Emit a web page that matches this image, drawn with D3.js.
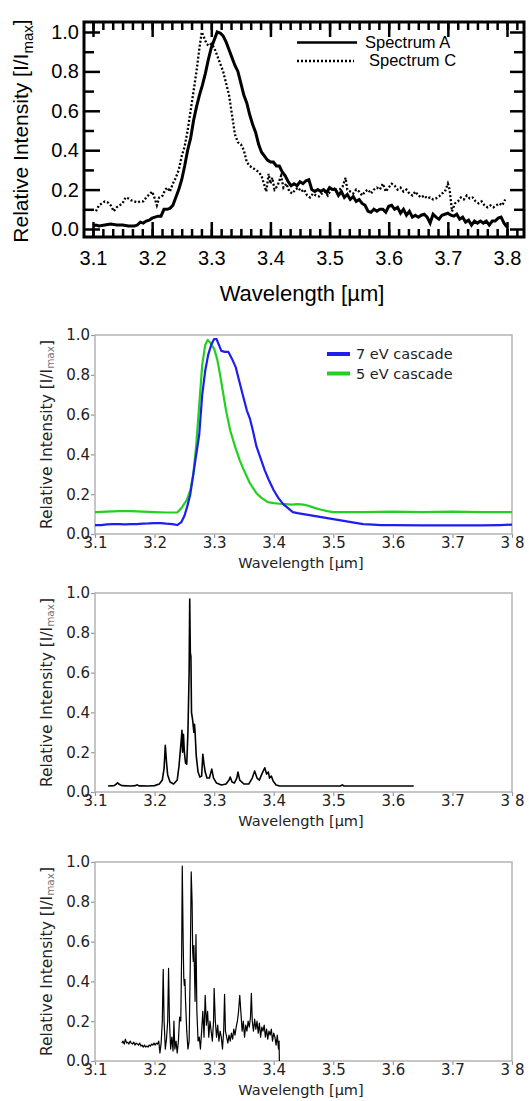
<!DOCTYPE html>
<html>
<head>
<meta charset="utf-8">
<script src="https://cdn.jsdelivr.net/npm/d3@7"></script>
<style>
body { margin: 0; background: white; }
</style>
</head>
<body>
<div id="chart"></div>
<script>
const WIDTH = 529, HEIGHT = 1101;

// tick values / labels
const xTicks = [3.1, 3.2, 3.3, 3.4, 3.5, 3.6, 3.7, 3.8];
const xTickLabelsOld = ["3.1", "3.2", "3.3", "3.4", "3.5", "3.6", "3.7", "3.8"];
const xTickLabelsNew = ["3.1", "3.2", "3.3", "3.4", "3.5", "3.6", "3.7", "3 8"];
const yTicks = [0.0, 0.2, 0.4, 0.6, 0.8, 1.0];
const yMinorTicks = [0.1, 0.3, 0.5, 0.7, 0.9];

// panel 1: measured spectra [wavelength, intensity]
const spectrumA = [[3.100,0.015],[3.105,0.02],[3.110,0.015],[3.120,0.02],[3.130,0.025],[3.140,0.02],[3.150,0.02],[3.160,0.015],[3.170,0.015],[3.175,0.02],[3.180,0.035],[3.185,0.03],[3.190,0.04],[3.195,0.045],[3.200,0.055],[3.205,0.06],[3.210,0.065],[3.215,0.065],[3.220,0.1],[3.225,0.1],[3.230,0.105],[3.235,0.12],[3.240,0.16],[3.245,0.2],[3.250,0.25],[3.255,0.32],[3.260,0.4],[3.265,0.46],[3.270,0.55],[3.275,0.62],[3.280,0.68],[3.285,0.73],[3.290,0.79],[3.295,0.86],[3.300,0.92],[3.305,0.96],[3.310,1.0],[3.315,0.995],[3.320,0.98],[3.325,0.95],[3.330,0.91],[3.335,0.87],[3.340,0.83],[3.345,0.8],[3.350,0.74],[3.355,0.68],[3.360,0.64],[3.365,0.58],[3.370,0.53],[3.375,0.49],[3.380,0.43],[3.385,0.39],[3.390,0.37],[3.395,0.35],[3.400,0.34],[3.405,0.34],[3.410,0.32],[3.415,0.32],[3.420,0.29],[3.425,0.27],[3.430,0.24],[3.435,0.22],[3.440,0.23],[3.445,0.22],[3.450,0.24],[3.455,0.23],[3.460,0.245],[3.465,0.25],[3.470,0.2],[3.475,0.19],[3.480,0.2],[3.485,0.19],[3.490,0.2],[3.495,0.185],[3.500,0.21],[3.505,0.2],[3.510,0.2],[3.515,0.17],[3.520,0.19],[3.525,0.16],[3.530,0.175],[3.535,0.15],[3.540,0.165],[3.545,0.14],[3.550,0.15],[3.555,0.13],[3.560,0.12],[3.565,0.09],[3.570,0.085],[3.575,0.1],[3.580,0.09],[3.585,0.1],[3.590,0.1],[3.595,0.085],[3.600,0.115],[3.605,0.12],[3.610,0.1],[3.615,0.11],[3.620,0.08],[3.625,0.1],[3.630,0.07],[3.635,0.09],[3.640,0.06],[3.645,0.07],[3.650,0.06],[3.655,0.07],[3.660,0.075],[3.665,0.06],[3.670,0.03],[3.675,0.075],[3.680,0.06],[3.685,0.05],[3.690,0.07],[3.695,0.075],[3.700,0.08],[3.705,0.07],[3.710,0.065],[3.715,0.075],[3.720,0.05],[3.725,0.06],[3.730,0.035],[3.735,0.045],[3.740,0.02],[3.745,0.04],[3.750,0.03],[3.755,0.04],[3.760,0.03],[3.765,0.04],[3.770,0.02],[3.775,0.04],[3.780,0.04],[3.785,0.055],[3.790,0.06],[3.795,0.03],[3.800,0.01]];

const spectrumC = [[3.105,0.09],[3.110,0.12],[3.115,0.13],[3.120,0.14],[3.125,0.135],[3.130,0.12],[3.135,0.09],[3.140,0.11],[3.145,0.12],[3.150,0.13],[3.155,0.16],[3.160,0.155],[3.165,0.145],[3.170,0.14],[3.175,0.135],[3.180,0.14],[3.185,0.14],[3.190,0.16],[3.195,0.175],[3.200,0.19],[3.205,0.15],[3.208,0.12],[3.212,0.16],[3.218,0.17],[3.222,0.2],[3.226,0.21],[3.230,0.19],[3.235,0.23],[3.240,0.26],[3.245,0.3],[3.250,0.37],[3.255,0.42],[3.260,0.5],[3.265,0.6],[3.270,0.7],[3.275,0.8],[3.280,0.92],[3.284,1.0],[3.288,0.97],[3.292,0.94],[3.296,0.93],[3.300,0.94],[3.305,0.92],[3.310,0.88],[3.315,0.84],[3.320,0.8],[3.325,0.74],[3.330,0.68],[3.335,0.58],[3.340,0.48],[3.345,0.44],[3.350,0.43],[3.355,0.4],[3.360,0.34],[3.365,0.32],[3.370,0.31],[3.375,0.3],[3.380,0.29],[3.385,0.27],[3.390,0.22],[3.393,0.19],[3.397,0.28],[3.400,0.23],[3.403,0.26],[3.407,0.2],[3.412,0.22],[3.418,0.27],[3.422,0.21],[3.427,0.23],[3.432,0.19],[3.437,0.18],[3.442,0.2],[3.447,0.21],[3.452,0.19],[3.457,0.2],[3.462,0.17],[3.467,0.16],[3.472,0.18],[3.477,0.17],[3.482,0.165],[3.487,0.18],[3.492,0.19],[3.497,0.17],[3.502,0.2],[3.507,0.21],[3.512,0.19],[3.517,0.2],[3.522,0.215],[3.527,0.26],[3.530,0.2],[3.535,0.19],[3.540,0.18],[3.545,0.2],[3.550,0.19],[3.555,0.17],[3.560,0.19],[3.565,0.2],[3.570,0.18],[3.575,0.2],[3.580,0.21],[3.585,0.2],[3.590,0.23],[3.595,0.19],[3.600,0.21],[3.605,0.23],[3.610,0.22],[3.615,0.2],[3.620,0.21],[3.625,0.19],[3.630,0.2],[3.635,0.18],[3.640,0.17],[3.645,0.19],[3.650,0.17],[3.655,0.16],[3.660,0.17],[3.665,0.155],[3.670,0.16],[3.675,0.15],[3.680,0.155],[3.685,0.165],[3.690,0.18],[3.695,0.19],[3.700,0.23],[3.703,0.2],[3.707,0.09],[3.712,0.13],[3.717,0.14],[3.722,0.16],[3.727,0.15],[3.732,0.17],[3.737,0.155],[3.742,0.16],[3.747,0.14],[3.752,0.13],[3.757,0.14],[3.762,0.12],[3.767,0.11],[3.772,0.12],[3.777,0.11],[3.782,0.12],[3.787,0.13],[3.792,0.12],[3.797,0.15]];

// panel 2: cascade models
const cascade7 = [[3.100,0.045],[3.110,0.045],[3.120,0.048],[3.130,0.05],[3.140,0.05],[3.150,0.048],[3.160,0.05],[3.170,0.05],[3.180,0.052],[3.190,0.053],[3.200,0.055],[3.210,0.055],[3.220,0.052],[3.230,0.05],[3.238,0.045],[3.245,0.06],[3.250,0.09],[3.255,0.14],[3.260,0.2],[3.265,0.3],[3.270,0.4],[3.275,0.5],[3.280,0.7],[3.285,0.82],[3.290,0.9],[3.295,0.95],[3.300,0.98],[3.304,0.98],[3.308,0.95],[3.312,0.92],[3.318,0.915],[3.324,0.915],[3.330,0.88],[3.336,0.84],[3.342,0.77],[3.348,0.7],[3.355,0.62],[3.360,0.58],[3.365,0.52],[3.371,0.44],[3.378,0.38],[3.385,0.32],[3.392,0.27],[3.400,0.22],[3.408,0.18],[3.416,0.15],[3.424,0.13],[3.432,0.11],[3.440,0.105],[3.450,0.1],[3.460,0.095],[3.470,0.09],[3.480,0.085],[3.490,0.08],[3.500,0.075],[3.510,0.07],[3.520,0.065],[3.530,0.06],[3.540,0.055],[3.550,0.05],[3.560,0.048],[3.580,0.045],[3.600,0.045],[3.650,0.043],[3.700,0.043],[3.750,0.043],[3.780,0.045],[3.800,0.047]];

const cascade5 = [[3.100,0.11],[3.120,0.112],[3.140,0.115],[3.160,0.115],[3.180,0.112],[3.200,0.11],[3.220,0.108],[3.238,0.108],[3.245,0.13],[3.254,0.17],[3.260,0.22],[3.265,0.3],[3.270,0.45],[3.275,0.65],[3.280,0.85],[3.285,0.95],[3.289,0.975],[3.294,0.96],[3.300,0.93],[3.305,0.88],[3.310,0.8],[3.315,0.71],[3.320,0.62],[3.327,0.52],[3.335,0.44],[3.343,0.37],[3.350,0.32],[3.360,0.255],[3.371,0.205],[3.380,0.18],[3.390,0.16],[3.400,0.155],[3.410,0.152],[3.420,0.15],[3.430,0.148],[3.440,0.15],[3.450,0.148],[3.460,0.14],[3.470,0.13],[3.480,0.122],[3.490,0.115],[3.500,0.11],[3.550,0.11],[3.600,0.112],[3.650,0.11],[3.700,0.112],[3.750,0.11],[3.800,0.11]];

// panel 3: line spectrum
const lineSpectrum = [[3.122,0.03],[3.132,0.032],[3.136,0.04],[3.138,0.047],[3.140,0.04],[3.145,0.032],[3.160,0.03],[3.168,0.032],[3.171,0.036],[3.174,0.031],[3.190,0.03],[3.200,0.032],[3.208,0.04],[3.213,0.06],[3.216,0.12],[3.218,0.235],[3.220,0.15],[3.222,0.085],[3.226,0.05],[3.232,0.04],[3.238,0.06],[3.241,0.13],[3.243,0.2],[3.245,0.27],[3.246,0.31],[3.247,0.2],[3.2485,0.29],[3.250,0.2],[3.252,0.145],[3.254,0.14],[3.256,0.3],[3.258,0.6],[3.259,0.97],[3.260,0.7],[3.261,0.68],[3.262,0.4],[3.264,0.36],[3.266,0.3],[3.267,0.34],[3.268,0.3],[3.270,0.18],[3.273,0.1],[3.276,0.075],[3.279,0.08],[3.281,0.19],[3.283,0.14],[3.285,0.1],[3.288,0.07],[3.292,0.07],[3.296,0.115],[3.299,0.07],[3.304,0.045],[3.312,0.035],[3.320,0.04],[3.325,0.06],[3.327,0.075],[3.330,0.05],[3.334,0.045],[3.338,0.07],[3.340,0.1],[3.343,0.06],[3.350,0.04],[3.358,0.04],[3.364,0.07],[3.368,0.105],[3.372,0.07],[3.376,0.06],[3.380,0.09],[3.385,0.122],[3.388,0.09],[3.391,0.1],[3.393,0.07],[3.396,0.08],[3.399,0.055],[3.404,0.035],[3.410,0.03],[3.500,0.03],[3.512,0.03],[3.515,0.036],[3.518,0.03],[3.635,0.03]];

// panel 4: noisy spectrum
const noisySpectrum = [[3.145,0.09],[3.147,0.1],[3.149,0.085],[3.151,0.11],[3.153,0.09],[3.155,0.095],[3.157,0.085],[3.159,0.1],[3.161,0.09],[3.163,0.085],[3.165,0.095],[3.167,0.08],[3.169,0.09],[3.171,0.085],[3.173,0.08],[3.175,0.09],[3.177,0.075],[3.179,0.08],[3.181,0.07],[3.183,0.08],[3.185,0.07],[3.187,0.075],[3.189,0.07],[3.191,0.08],[3.193,0.075],[3.195,0.085],[3.197,0.08],[3.199,0.09],[3.201,0.08],[3.203,0.09],[3.205,0.085],[3.207,0.1],[3.209,0.04],[3.211,0.09],[3.213,0.2],[3.2145,0.46],[3.216,0.2],[3.218,0.06],[3.220,0.11],[3.222,0.2],[3.2235,0.465],[3.225,0.2],[3.227,0.06],[3.229,0.12],[3.231,0.05],[3.2325,0.2],[3.234,0.06],[3.236,0.1],[3.238,0.04],[3.240,0.1],[3.242,0.22],[3.244,0.2],[3.2455,0.55],[3.2465,0.98],[3.248,0.6],[3.249,0.42],[3.250,0.38],[3.251,0.41],[3.252,0.3],[3.254,0.15],[3.256,0.06],[3.258,0.1],[3.260,0.5],[3.2615,0.95],[3.263,0.8],[3.264,0.55],[3.265,0.5],[3.266,0.58],[3.267,0.45],[3.268,0.3],[3.2695,0.635],[3.271,0.25],[3.273,0.1],[3.275,0.12],[3.277,0.06],[3.279,0.15],[3.281,0.25],[3.283,0.12],[3.285,0.33],[3.287,0.18],[3.289,0.25],[3.291,0.12],[3.293,0.2],[3.295,0.15],[3.297,0.1],[3.299,0.2],[3.300,0.365],[3.302,0.2],[3.304,0.12],[3.306,0.18],[3.308,0.1],[3.310,0.15],[3.312,0.12],[3.314,0.06],[3.316,0.15],[3.3175,0.335],[3.319,0.15],[3.321,0.12],[3.323,0.09],[3.325,0.13],[3.327,0.1],[3.329,0.14],[3.331,0.11],[3.333,0.16],[3.335,0.13],[3.337,0.17],[3.339,0.2],[3.341,0.25],[3.343,0.33],[3.345,0.24],[3.347,0.15],[3.349,0.2],[3.351,0.12],[3.353,0.18],[3.355,0.15],[3.357,0.2],[3.359,0.17],[3.361,0.22],[3.3625,0.34],[3.364,0.2],[3.366,0.15],[3.368,0.21],[3.370,0.16],[3.372,0.2],[3.374,0.14],[3.376,0.19],[3.378,0.12],[3.380,0.17],[3.382,0.15],[3.384,0.18],[3.386,0.12],[3.388,0.16],[3.390,0.11],[3.392,0.15],[3.394,0.13],[3.396,0.16],[3.398,0.1],[3.400,0.14],[3.402,0.12],[3.404,0.08],[3.406,0.13],[3.408,0.06],[3.409,0.1],[3.4095,0.0]];

const svg = d3.select("#chart").append("svg").attr("width", WIDTH).attr("height", HEIGHT)

// ---------- panel 1 : old style journal plot ----------
function draw1() {
    const FL = 84, FR = 524, FT = 22, FB = 237
    const x = d3.scaleLinear().domain([3.1, 3.8]).range([93, 507])
    const y = d3.scaleLinear().domain([0, 1]).range([229, 32])
    const font = "'Liberation Sans', Arial, sans-serif"
    const g = svg.append("g")

    const xMinor = d3.range(-1, 45).map(i => 3.1 + i / 60).filter(v => x(v) > FL + 2 && x(v) < FR - 2)

    // ticks (inward) on all four sides
    const axes = [
        [d3.axisBottom(x).tickValues(xMinor).tickSize(-8).tickFormat(""), 'translate(0,' + FB + ')'],
        [d3.axisBottom(x).tickValues(xTicks).tickSize(-15).tickPadding(14).tickFormat((d, i) => xTickLabelsOld[i]), 'translate(0,' + FB + ')'],
        [d3.axisTop(x).tickValues(xMinor).tickSize(-8).tickFormat(""), 'translate(0,' + FT + ')'],
        [d3.axisTop(x).tickValues(xTicks).tickSize(-15).tickFormat(""), 'translate(0,' + FT + ')'],
        [d3.axisLeft(y).tickValues(yMinorTicks).tickSize(-10).tickFormat(""), 'translate(' + FL + ',0)'],
        [d3.axisLeft(y).tickValues(yTicks).tickSize(-16).tickPadding(5).tickFormat(d3.format(".1f")), 'translate(' + FL + ',0)'],
        [d3.axisRight(y).tickValues(yMinorTicks).tickSize(-10).tickFormat(""), 'translate(' + FR + ',0)'],
        [d3.axisRight(y).tickValues(yTicks).tickSize(-14).tickFormat(""), 'translate(' + FR + ',0)']
    ]
    axes.forEach(a => {
        const ax = g.append("g").attr("transform", a[1]).call(a[0])
        ax.select(".domain").remove()
        ax.selectAll("line").attr("stroke", "#000").attr("stroke-width", 2.5)
        ax.selectAll("text").attr("fill", "#000").style("font-family", font).style("font-size", "20px")
    })

    g.append("rect").attr("x", FL).attr("y", FT).attr("width", FR - FL).attr("height", FB - FT)
        .attr("fill", "none").attr("stroke", "#000").attr("stroke-width", 3)

    const line = d3.line().x(d => x(d[0])).y(d => y(d[1]))
    g.append("path").datum(spectrumC).attr("d", line).attr("fill", "none").attr("stroke", "#000")
        .attr("stroke-width", 2.3).attr("stroke-dasharray", "2,2")
    g.append("path").datum(spectrumA).attr("d", line).attr("fill", "none").attr("stroke", "#000")
        .attr("stroke-width", 3)

    // labels
    g.append("text").attr("x", 302).attr("y", 301).attr("text-anchor", "middle")
        .style("font-family", font).style("font-size", "22px").text("Wavelength [\u00b5m]")
    const yl = g.append("text").attr("transform", "translate(28,131) rotate(-90)").attr("text-anchor", "middle")
        .style("font-family", font).style("font-size", "21px")
    yl.append("tspan").text("Relative Intensity [I/I")
    yl.append("tspan").attr("dy", 5).style("font-size", "15px").text("max")
    yl.append("tspan").attr("dy", -5).text("]")

    // legend
    const legend = g.append("g")
    legend.append("line").attr("x1", 297).attr("x2", 357).attr("y1", 42.5).attr("y2", 42.5)
        .attr("stroke", "#000").attr("stroke-width", 2.5)
    legend.append("line").attr("x1", 297).attr("x2", 354).attr("y1", 61).attr("y2", 61)
        .attr("stroke", "#000").attr("stroke-width", 2.3).attr("stroke-dasharray", "2,2")
    legend.append("text").attr("x", 365).attr("y", 47.5).style("font-family", font).style("font-size", "16.5px").text("Spectrum A")
    legend.append("text").attr("x", 369).attr("y", 66).style("font-family", font).style("font-size", "16.5px").text("Spectrum C")
}

// ---------- panels 2-4 : matplotlib style ----------
function drawModern(TOP, BOTTOM, series, legendItems) {
    const FL = 95, FR = 512
    const x = d3.scaleLinear().domain([3.1, 3.8]).range([FL, FR])
    const y = d3.scaleLinear().domain([0, 1]).range([BOTTOM, TOP])
    const font = "'DejaVu Sans', sans-serif"
    const g = svg.append("g")

    const gen_x = d3.axisBottom(x).tickValues(xTicks).tickSize(4).tickPadding(-1).tickFormat((d, i) => xTickLabelsNew[i])
    const gen_y = d3.axisLeft(y).tickValues(yTicks).tickSize(4).tickPadding(1).tickFormat(d3.format(".1f"))
    const ax = g.append("g").attr('transform', 'translate(0,' + BOTTOM + ')').call(gen_x)
    const ay = g.append("g").attr('transform', 'translate(' + FL + ',0)').call(gen_y)
    ;[ax, ay].forEach(a => {
        a.select(".domain").remove()
        a.selectAll("line").attr("stroke", "#999").attr("stroke-width", 1.2)
        a.selectAll("text").attr("fill", "#222").style("font-family", font).style("font-size", "15px")
    })

    g.append("rect").attr("x", FL).attr("y", TOP).attr("width", FR - FL).attr("height", BOTTOM - TOP)
        .attr("fill", "none").attr("stroke", "#b4b4b4").attr("stroke-width", 1.5)

    const line = d3.line().x(d => x(d[0])).y(d => y(d[1]))
    series.forEach(s => {
        g.append("path").datum(s.data).attr("d", line).attr("fill", "none")
            .attr("stroke", s.color).attr("stroke-width", s.width).attr("stroke-linejoin", "round")
    })

    g.append("text").attr("x", 301).attr("y", BOTTOM + 34).attr("text-anchor", "middle").attr("fill", "#222")
        .style("font-family", font).style("font-size", "14.5px").text("Wavelength [\u00b5m]")
    const yl = g.append("text").attr("transform", 'translate(52,' + ((TOP + BOTTOM) / 2) + ') rotate(-90)')
        .attr("text-anchor", "middle").attr("fill", "#222").style("font-family", font).style("font-size", "15.5px")
    yl.append("tspan").text("Relative Intensity [I/I")
    yl.append("tspan").attr("dy", 2).attr("fill", "#777").style("font-size", "10.5px").text("max")
    yl.append("tspan").attr("dy", -2).text("]")

    if (legendItems) {
        legendItems.forEach((item, i) => {
            const row = g.append("g").attr('transform', 'translate(0,' + (i * 19.5) + ')')
            row.append("line").attr("x1", 327).attr("x2", 350).attr("y1", TOP + 19).attr("y2", TOP + 19)
                .attr("stroke", item.color).attr("stroke-width", 4)
            row.append("text").attr("x", 356).attr("y", TOP + 24).attr("fill", "#222")
                .style("font-family", font).style("font-size", "14.5px").text(item.name)
        })
    }
}

draw1()
drawModern(335, 534, [
    {data: cascade5, color: "#22d022", width: 2.2},
    {data: cascade7, color: "#1e1ef0", width: 2.2}
], [{name: "7 eV cascade", color: "#1e1ef0"}, {name: "5 eV cascade", color: "#22d022"}])
drawModern(593, 792, [{data: lineSpectrum, color: "#000", width: 1.6}])
drawModern(862, 1061, [{data: noisySpectrum, color: "#000", width: 1.2}])
</script>
</body>
</html>
